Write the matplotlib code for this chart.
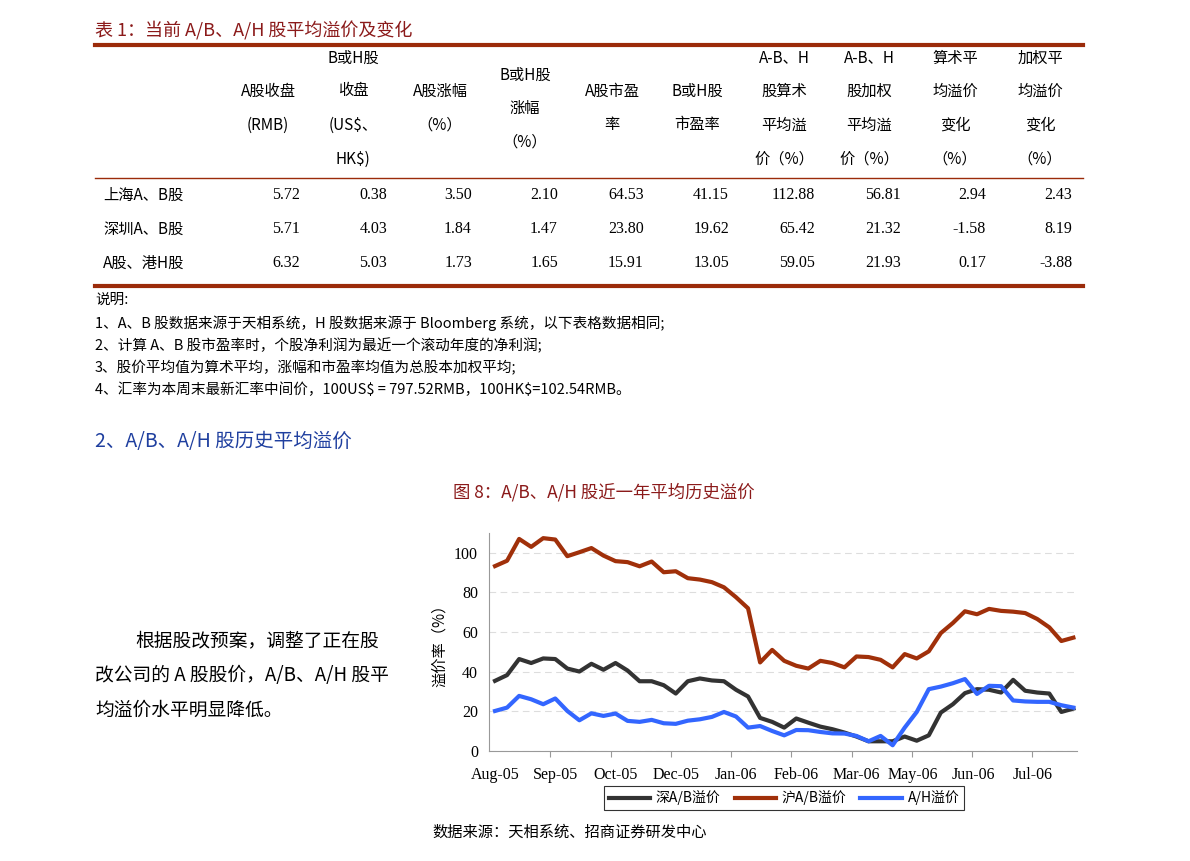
import matplotlib
matplotlib.use("Agg")
import matplotlib.pyplot as plt
from matplotlib.lines import Line2D

plt.rcParams['font.family'] = ['Noto Sans CJK SC', 'DejaVu Sans']

W, H = 1190, 861
fig = plt.figure(figsize=(W/100, H/100), dpi=100)

def P(x, y):
    return x / W, 1 - y / H

def T(x, y, s, **kw):
    fig.text(*P(x, y), s, va='center', **kw)

RED = '#9B2B0A'
# ---------------- table ----------------
T(95, 31, '表 1：当前 A/B、A/H 股平均溢价及变化', fontsize=13, color='#8B1A1A')
fig.add_artist(Line2D([95/W, 1083/W], [1-45/H]*2, color=RED, lw=3))
fig.add_artist(Line2D([95/W, 1083/W], [1-178/H]*2, color=RED, lw=1))
fig.add_artist(Line2D([95/W, 1083/W], [1-286/H]*2, color=RED, lw=3))

headers = [
    ['', 'A股收盘', '(RMB)', ''],
    ['B或H股', '收盘', '(US\\$、', 'HK\\$)'],
    ['', 'A股涨幅', '（%）', ''],
    None,
    ['', 'A股市盈', '率', ''],
    ['', 'B或H股', '市盈率', ''],
    ['A-B、H', '股算术', '平均溢', '价（%）'],
    ['A-B、H', '股加权', '平均溢', '价（%）'],
    ['算术平', '均溢价', '变化', '（%）'],
    ['加权平', '均溢价', '变化', '（%）'],
]
col_c = [268, 353, 440, 525, 612, 697, 784, 869, 955, 1040]
col_r = [300, 387, 472, 558, 644, 729, 815, 901, 986, 1072]
hy = [58, 91, 125, 159]
for c, h in zip(col_c, headers):
    if h is None:
        for y, s in zip([75, 108, 142], ['B或H股', '涨幅', '（%）']):
            T(c, y, s, fontsize=11, ha='center')
        continue
    for y, s in zip(hy, h):
        if s:
            T(c, y, s, fontsize=11, ha='center')

row_labels = ['上海A、B股', '深圳A、B股', 'A股、港H股']
row_sh = ['5.72', '0.38', '3.50', '2.10', '64.53', '41.15', '112.88', '56.81', '2.94', '2.43']
row_sz = ['5.71', '4.03', '1.84', '1.47', '23.80', '19.62', '65.42', '21.32', '-1.58', '8.19']
row_ah = ['6.32', '5.03', '1.73', '1.65', '15.91', '13.05', '59.05', '21.93', '0.17', '-3.88']
for y, lab, row in zip([195, 229, 263], row_labels, [row_sh, row_sz, row_ah]):
    T(103, y, lab, fontsize=11)
    for x, v in zip(col_r, row):
        T(x, y, v, fontsize=11.5, ha='right', family=['Liberation Serif'])

notes = ['说明:',
         '1、A、B 股数据来源于天相系统，H 股数据来源于 Bloomberg 系统，以下表格数据相同;',
         '2、计算 A、B 股市盈率时，个股净利润为最近一个滚动年度的净利润;',
         '3、股价平均值为算术平均，涨幅和市盈率均值为总股本加权平均;',
         '4、汇率为本周末最新汇率中间价，100US\\$ = 797.52RMB，100HK\\$=102.54RMB。']
for y, s in zip([300, 323, 346, 368, 390], notes):
    T(95, y, s, fontsize=10.5)

T(95, 441, '2、A/B、A/H 股历史平均溢价', fontsize=14, color='#1F3F9F')

for x, y, s in [(135, 641, '根据股改预案，调整了正在股'),
                (95, 676, '改公司的 A 股股价，A/B、A/H 股平'),
                (95, 710, '均溢价水平明显降低。')]:
    T(x, y, s, fontsize=13.5)

T(604, 492, '图 8：A/B、A/H 股近一年平均历史溢价', fontsize=12.5, color='#8B1A1A', ha='center')
T(432, 832, '数据来源：天相系统、招商证券研发中心', fontsize=11)

# ---------------- chart ----------------
sz = [35.4, 38.3, 46.4, 44.4, 46.7, 46.4, 41.6, 40.1, 44.0, 41.0, 44.4, 40.6, 35.2, 35.2,
      33.2, 29.0, 35.2, 36.6, 35.6, 35.2, 30.9, 27.5, 16.7, 14.7, 11.8, 16.4, 14.3, 12.3,
      11.0, 9.3, 7.3, 4.9, 4.9, 4.9, 7.3, 5.2, 7.9, 19.4, 23.6, 29.2, 31.2, 30.9, 29.5,
      35.9, 30.4, 29.5, 29.0, 19.7, 21.4]
sh = [93.3, 96.0, 107.0, 103.0, 107.4, 106.7, 98.3, 100.3, 102.4, 98.6, 95.8, 95.3, 93.2,
      95.6, 90.2, 90.7, 87.2, 86.5, 85.2, 82.6, 77.6, 72.0, 44.7, 51.0, 45.5, 43.0, 41.6,
      45.5, 44.4, 42.2, 47.7, 47.4, 46.0, 42.2, 48.9, 46.7, 50.3, 59.5, 64.6, 70.5, 69.0,
      71.7, 70.7, 70.3, 69.6, 66.6, 62.4, 55.5, 57.2]
ah = [20.2, 21.9, 27.8, 26.1, 23.6, 26.5, 20.2, 15.5, 19.0, 17.7, 18.9, 15.2, 14.7, 15.7,
      14.0, 13.7, 15.3, 16.0, 17.2, 19.7, 17.4, 11.8, 12.6, 10.1, 7.9, 10.6, 10.5, 9.6,
      8.9, 8.8, 7.6, 4.9, 7.6, 2.9, 11.8, 19.7, 31.2, 32.5, 34.2, 36.3, 28.8, 32.9, 32.7,
      25.5, 25.0, 24.8, 24.8, 23.1, 21.9]
month_labels = ['Aug-05', 'Sep-05', 'Oct-05', 'Dec-05', 'Jan-06', 'Feb-06', 'Mar-06',
                'May-06', 'Jun-06', 'Jul-06']

l, r, t, b = 489, 1077, 533, 751
ax = fig.add_axes([l/W, 1-b/H, (r-l)/W, (b-t)/H])
x = list(range(len(sh)))
ax.plot(x, sz, color='#333333', lw=3, label='深A/B溢价')
ax.plot(x, sh, color='#A0300A', lw=3, label='沪A/B溢价')
ax.plot(x, ah, color='#3366FF', lw=3, label='A/H溢价')
ax.set_xlim(-0.5, 48.3)
ax.set_ylim(0, 110)
ax.set_yticks(range(0, 101, 20))
ax.yaxis.grid(True, ls=(0, (6, 4)), color='#dddddd', lw=0.8)
ax.set_axisbelow(True)
for s in ['top', 'right']:
    ax.spines[s].set_visible(False)
for s in ['left', 'bottom']:
    ax.spines[s].set_color('#999999')
ax.tick_params(axis='y', length=0, labelsize=11.5, pad=8)
for lab in ax.get_yticklabels():
    lab.set_family(['Liberation Serif'])
ax.set_xticks([4.6 + 5 * k for k in range(9)])
ax.set_xticklabels([])
ax.tick_params(axis='x', length=4, color='#999999', direction='out')
lab_pos = [0, 5, 10, 15, 20, 25, 30, 34.7, 39.7, 44.6]
for p, s in zip(lab_pos, month_labels):
    ax.text(p, -12, s, ha='center', va='center', fontsize=11.5,
            family=['Liberation Serif'], transform=ax.transData, clip_on=False)
ax.set_ylabel('溢价率（%）', fontsize=11, labelpad=4)

leg = fig.legend(loc='center', bbox_to_anchor=P(784, 798), ncol=3, fontsize=10,
                 frameon=True, fancybox=False, edgecolor='black', handlelength=3,
                 columnspacing=1.0, borderpad=0.3, handletextpad=0.4)
leg.get_frame().set_linewidth(0.8)

fig.savefig('out.png', dpi=100)
